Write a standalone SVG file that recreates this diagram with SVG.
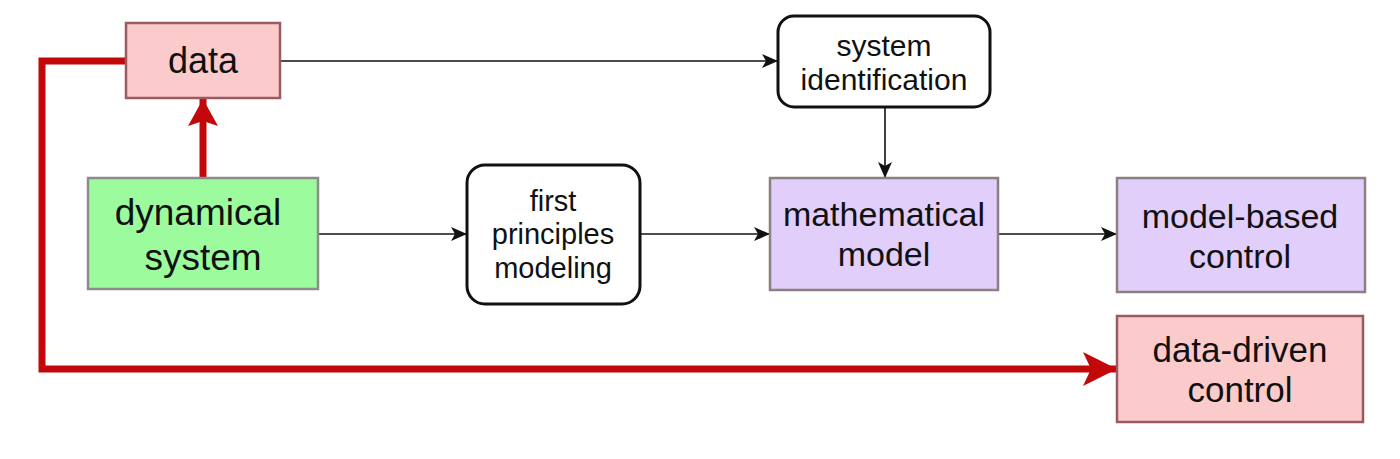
<svg xmlns="http://www.w3.org/2000/svg" width="1400" height="459" viewBox="0 0 1400 459">
<style>
.t{font-family:"Liberation Sans",Arial,sans-serif;fill:#111;text-anchor:middle}
.big{font-size:34px}
.pink{fill:#fbcbcb;stroke:#9a5a62;stroke-width:2.5}
.lav{fill:#e2cefb;stroke:#8c7f82;stroke-width:2.5}
.grn{fill:#9cfb9c;stroke:#8c8c8c;stroke-width:2.5}
.rnd{fill:#fff;stroke:#111;stroke-width:3}
.c{fill:none;stroke:#111;stroke-width:1.6}
.r{fill:none;stroke:#c20808;stroke-width:7}
</style>
<defs>
<marker id="ah" viewBox="0 0 16 14" refX="16" refY="7" markerWidth="16" markerHeight="14" markerUnits="userSpaceOnUse" orient="auto">
<path d="M0,0 L16,7 L0,14 L4,7 Z" fill="#111"/>
</marker>
<marker id="rh" viewBox="0 0 34 34" refX="34" refY="17" markerWidth="34" markerHeight="34" markerUnits="userSpaceOnUse" orient="auto">
<path d="M0,0 L34,17 L0,34 L8,17 Z" fill="#c20808"/>
</marker>
<marker id="rh2" viewBox="0 0 27 30" refX="27" refY="15" markerWidth="27" markerHeight="30" markerUnits="userSpaceOnUse" orient="auto">
<path d="M0,0 L27,15 L0,30 L5,15 Z" fill="#c20808"/>
</marker>
</defs>
<g id="connectors">
<path class="c" d="M280,61 H778" marker-end="url(#ah)"/>
<path class="c" d="M885,108 V178" marker-end="url(#ah)"/>
<path class="c" d="M318,234 H467" marker-end="url(#ah)"/>
<path class="c" d="M640,234 H770" marker-end="url(#ah)"/>
<path class="c" d="M998,234 H1117" marker-end="url(#ah)"/>
<path class="r" d="M203,178 V99" marker-end="url(#rh2)"/>
<path class="r" d="M126,61 H42 V369 H1117" marker-end="url(#rh)" stroke-linejoin="miter"/>
</g>
<g id="data">
<rect class="pink" x="126" y="23" width="154" height="75"/>
<text class="t" style="font-size:36px" x="203" y="73">data</text>
</g>
<g id="sysid">
<rect class="rnd" x="778" y="16" width="212" height="91" rx="16"/>
<text class="t" style="font-size:30px" x="884" y="56">system</text>
<text class="t" style="font-size:30px" x="884" y="90">identification</text>
</g>
<g id="dynsys">
<rect class="grn" x="88" y="178" width="230" height="111"/>
<text class="t" style="font-size:37px" x="198" y="225">dynamical</text>
<text class="t" style="font-size:37px" x="203" y="270">system</text>
</g>
<g id="fpm">
<rect class="rnd" x="467" y="165" width="173" height="139" rx="18"/>
<text class="t" style="font-size:29px" x="553" y="211">first</text>
<text class="t" style="font-size:29px" x="553" y="244">principles</text>
<text class="t" style="font-size:29px" x="553" y="278">modeling</text>
</g>
<g id="mathmodel">
<rect class="lav" x="770" y="178" width="228" height="112"/>
<text class="t big" x="884" y="226">mathematical</text>
<text class="t big" x="884" y="266">model</text>
</g>
<g id="mbc">
<rect class="lav" x="1117" y="178" width="248" height="114"/>
<text class="t big" x="1240" y="228">model-based</text>
<text class="t big" x="1240" y="268">control</text>
</g>
<g id="ddc">
<rect class="pink" x="1117" y="316" width="246" height="106"/>
<text class="t" style="font-size:35px" x="1240" y="362">data-driven</text>
<text class="t" style="font-size:35px" x="1240" y="402">control</text>
</g>
</svg>
